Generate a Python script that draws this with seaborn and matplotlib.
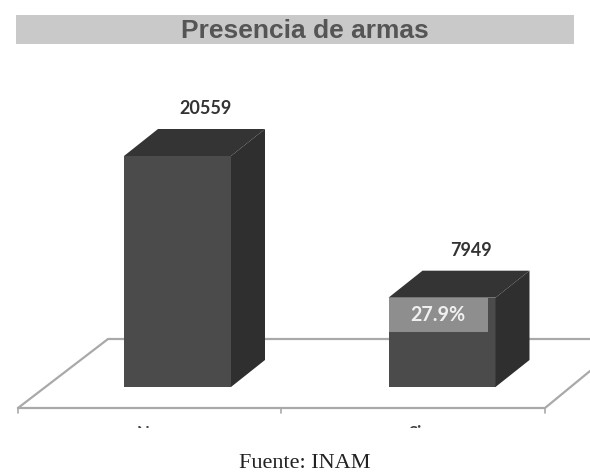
import matplotlib
matplotlib.use("Agg")
import matplotlib.pyplot as plt
import seaborn as sns
from matplotlib.patches import Polygon, Rectangle

categories = ["No", "Si"]
values = [20559, 7949]
shares = [None, "27.9%"]
title = "Presencia de armas"
source = "Fuente: INAM"

W, H = 590, 475
FRONT, SIDE, TOP = "#4b4b4b", "#2f2f2f", "#343434"
FLOOR = "#a9a9a9"

sns.set_theme(style="white")
fig = plt.figure(figsize=(W / 100, H / 100), dpi=100, facecolor="white")

# Page layer in pixel coordinates: banner, floor, source
bg = fig.add_axes([0, 0, 1, 1])
bg.set_xlim(0, W)
bg.set_ylim(H, 0)
bg.axis("off")
bg.add_patch(Rectangle((16, 15), 558, 29, fc="#c9c9c9", ec="none"))
bg.text(305, 30.5, title, ha="center", va="center", fontsize=19, fontweight="bold",
        family="Liberation Sans", color="#555555")
bg.plot([18, 108, 590], [408, 339, 339], color=FLOOR, lw=1.6, solid_joinstyle="miter")
bg.plot([18, 545, 590], [408, 408, 371], color=FLOOR, lw=1.6, solid_joinstyle="miter")
for x in (18, 281, 545):
    bg.plot([x, x], [408, 413], color=FLOOR, lw=1.2)
clip = Rectangle((0, 400), W, 28, transform=bg.transData)
for x, c in zip((148, 415), categories):
    t = bg.text(x, 424.5, c, ha="center", va="top", fontsize=12, fontweight="bold",
                family="Lato", color="#444444")
    t.set_clip_path(clip)
    t.set_clip_on(True)
bg.text(305, 464, source, ha="center", va="center", fontsize=16,
        family="Liberation Serif", color="#222222")

# Bars: category 0 at px 177.5, category 1 at px 442, zero at y=387, top value at y=156
step = 264.5
ax = fig.add_axes([(177.5 - step / 2) / W, (H - 387) / H, 2 * step / W, 231 / H])
ax.patch.set_alpha(0)
sns.barplot(x=categories, y=values, color=FRONT, saturation=1, width=107 / step, ax=ax,
            zorder=3, linewidth=0)
ax.set_xlim(-0.5, 1.5)
ax.set_ylim(0, max(values))
ax.axis("off")

dx = 34 / step
dy = 27 * max(values) / 231
data_per_px = max(values) / 231
for bar, v, share in zip(ax.patches, values, shares):
    x0, w = bar.get_x(), bar.get_width()
    x1 = x0 + w
    ax.add_patch(Polygon([(x1, 0), (x1 + dx, dy), (x1 + dx, v + dy), (x1, v)],
                         fc=SIDE, ec="none", clip_on=False, zorder=3))
    ax.add_patch(Polygon([(x0, v), (x0 + dx, v + dy), (x1 + dx, v + dy), (x1, v)],
                         fc=TOP, ec="none", clip_on=False, zorder=3))
    cx = x0 + w / 2
    ax.annotate(str(v), (cx, v), xytext=(28.5 * 0.72, 47 * 0.72), textcoords="offset points",
                ha="center", va="center", fontsize=13, fontweight="bold",
                family="Lato", color="#333333", annotation_clip=False)
    if share:
        ax.add_patch(Rectangle((x0, v - 34 * data_per_px), 99 / step, 34 * data_per_px,
                               fc="#8e8e8e", ec="none", zorder=4))
        ax.annotate(share, (x0, v), xytext=(49 * 0.72, -17 * 0.72), textcoords="offset points",
                    ha="center", va="center", fontsize=14.2, fontweight="bold",
                    family="Lato", color="#f0f0f0", zorder=5, annotation_clip=False)

fig.savefig("out.png", dpi=100, facecolor="white")
